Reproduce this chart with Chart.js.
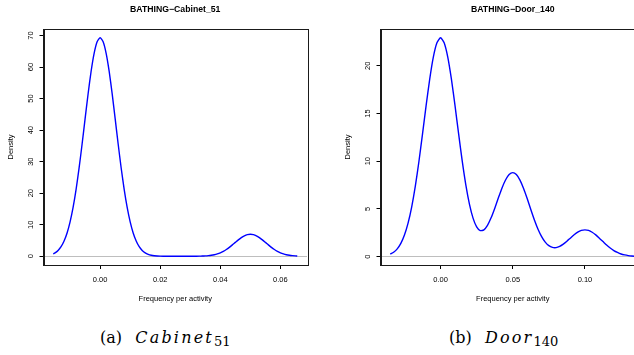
<!DOCTYPE html>
<html>
<head>
<meta charset="utf-8">
<script src="https://cdn.jsdelivr.net/npm/chart.js@4.4.1/dist/chart.umd.min.js"></script>
<style>
  html, body { margin: 0; padding: 0; background: #fff; }
  #wrap { position: relative; width: 634px; height: 355px; overflow: hidden; background: #fff; }
  canvas { position: absolute; top: 0; }
  .cap { position: absolute; font-family: "DejaVu Serif", serif; font-size: 16px; line-height: 20px; color: #000; white-space: nowrap; }
  .cap i { letter-spacing: 2.2px; margin-left: 3px; }
  .cap .sub { font-size: 13px; position: relative; top: 3px; font-style: normal; }
</style>
</head>
<body>
<div id="wrap">
  <canvas id="c1" width="317" height="310" style="left:0px"></canvas>
  <canvas id="c2" width="340" height="310" style="left:317px"></canvas>
  <div class="cap" style="left:100px; top:328px">(a)&nbsp;&nbsp;<i>Cabinet</i><span class="sub">51</span></div>
  <div class="cap" style="left:449px; top:328px">(b)&nbsp;&nbsp;<i>Door</i><span class="sub">140</span></div>
</div>
<script>
// ---- Data ----
const cabinetTitle = 'BATHING\u2212Cabinet_51';
const doorTitle = 'BATHING\u2212Door_140';
const xAxisTitle = 'Frequency per activity';
const yAxisTitle = 'Density';

const cabinetX = [-0.0156, -0.015, -0.014, -0.013, -0.012, -0.011, -0.010, -0.009, -0.008, -0.007, -0.006, -0.005, -0.004, -0.003, -0.002, -0.001,
  0.000, 0.001, 0.002, 0.003, 0.004, 0.005, 0.006, 0.007, 0.008, 0.009, 0.010, 0.011, 0.012, 0.013, 0.014, 0.015, 0.016, 0.017, 0.018, 0.019, 0.020,
  0.022, 0.025, 0.028, 0.031, 0.033, 0.034, 0.035, 0.036, 0.037, 0.038, 0.039, 0.040, 0.041, 0.042, 0.043, 0.044, 0.045, 0.046, 0.047, 0.048, 0.049,
  0.050, 0.051, 0.052, 0.053, 0.054, 0.055, 0.056, 0.057, 0.058, 0.059, 0.060, 0.061, 0.062, 0.063, 0.064, 0.065, 0.0656];
const cabinetDensity = [0.77, 1.08, 1.85, 3.04, 4.84, 7.39, 10.91, 15.50, 21.22, 28.00, 35.61, 43.65, 51.55, 58.68, 64.36, 68.03,
  69.30, 68.03, 64.36, 58.68, 51.55, 43.65, 35.61, 28.00, 21.22, 15.50, 10.91, 7.39, 4.84, 3.04, 1.85, 1.08, 0.61, 0.33, 0.17, 0.09, 0.04,
  0.01, 0.00, 0.00, 0.01, 0.03, 0.06, 0.11, 0.19, 0.31, 0.49, 0.75, 1.10, 1.57, 2.14, 2.83, 3.60, 4.41, 5.21, 5.93, 6.50, 6.87,
  7.00, 6.87, 6.50, 5.93, 5.21, 4.41, 3.60, 2.83, 2.14, 1.57, 1.10, 0.75, 0.49, 0.31, 0.19, 0.11, 0.08];

const doorX = [-0.0348, -0.0325, -0.030, -0.0275, -0.025, -0.0225, -0.020, -0.0175, -0.015, -0.0125, -0.010, -0.0075, -0.005, -0.0025,
  0.000, 0.0025, 0.005, 0.0075, 0.010, 0.0125, 0.015, 0.0175, 0.020, 0.0225, 0.025, 0.0275, 0.030, 0.0325, 0.035, 0.0375, 0.040, 0.0425, 0.045, 0.0475,
  0.050, 0.0525, 0.055, 0.0575, 0.060, 0.0625, 0.065, 0.0675, 0.070, 0.0725, 0.075, 0.0775, 0.080, 0.0825, 0.085, 0.0875, 0.090, 0.0925, 0.095, 0.0975,
  0.100, 0.1025, 0.105, 0.1075, 0.110, 0.1125, 0.115, 0.1175, 0.120, 0.1225, 0.125, 0.1275, 0.130, 0.1325, 0.1348];
const doorDensity = [0.25, 0.45, 0.81, 1.38, 2.25, 3.50, 5.19, 7.35, 9.94, 12.83, 15.82, 18.61, 20.91, 22.41,
  22.94, 22.41, 20.91, 18.62, 15.84, 12.88, 10.03, 7.52, 5.50, 4.03, 3.11, 2.72, 2.80, 3.27, 4.06, 5.05, 6.13, 7.17, 8.03, 8.60,
  8.80, 8.60, 8.02, 7.14, 6.08, 4.94, 3.84, 2.87, 2.09, 1.51, 1.14, 0.96, 0.94, 1.07, 1.31, 1.61, 1.95, 2.28, 2.56, 2.74,
  2.80, 2.74, 2.55, 2.27, 1.93, 1.57, 1.21, 0.90, 0.63, 0.43, 0.27, 0.17, 0.10, 0.055, 0.031];

const cabinetXTicks = [0.00, 0.02, 0.04, 0.06];
const cabinetYTicks = [0, 10, 20, 30, 40, 50, 60, 70];
const doorXTicks = [0.00, 0.05, 0.10];
const doorYTicks = [0, 5, 10, 15, 20];

// ---- Drawing ----
Chart.defaults.font.family = '"Liberation Sans", Arial, sans-serif';
Chart.defaults.color = '#000';

const boxPlugin = {
  id: 'rbox',
  afterDatasetsDraw(chart) {
    const a = chart.chartArea, ctx = chart.ctx;
    ctx.save();
    ctx.strokeStyle = '#1a1a1a';
    ctx.lineWidth = 1;
    ctx.strokeRect(Math.round(a.left) + 0.5, Math.round(a.top) + 0.5, Math.round(a.right - a.left), Math.round(a.bottom - a.top));
    ctx.restore();
  }
};

function rangeOf(arr) {
  const mn = Math.min(...arr), mx = Math.max(...arr);
  const pad = (mx - mn) * 0.04;
  return [mn - pad, mx + pad];
}

function makeChart(id, xs, ys, xTicks, yTicks, title, padLeft, padRight) {
  const pts = xs.map((x, i) => ({ x: x, y: ys[i] }));
  const xr = rangeOf(xs), yr = rangeOf(ys);
  const tickFont = { family: '"Liberation Sans", Arial, sans-serif', size: 7.5 };
  return new Chart(document.getElementById(id), {
    type: 'scatter',
    data: { datasets: [{ data: pts, showLine: true, borderColor: '#0000ff', borderWidth: 1.4, pointRadius: 0, tension: 0.2, fill: false }] },
    options: {
      responsive: false, animation: false, devicePixelRatio: 1,
      events: [],
      layout: { padding: { left: padLeft, right: padRight, top: 0, bottom: 0 } },
      plugins: {
        legend: { display: false },
        tooltip: { enabled: false },
        title: { display: true, fullSize: false, text: title, color: '#000',
          font: { family: '"Liberation Sans", Arial, sans-serif', size: 8.7, weight: 'bold' },
          padding: { top: 4.78, bottom: 13.78 } }
      },
      scales: {
        x: {
          type: 'linear', min: xr[0], max: xr[1],
          afterBuildTicks: s => { s.ticks = xTicks.map(v => ({ value: v })); },
          afterFit: s => { s.height = 45; },
          ticks: { font: tickFont, color: '#000', padding: 6, minRotation: 0, maxRotation: 0, autoSkip: false,
            callback: v => Number(v).toFixed(2) },
          grid: { drawOnChartArea: false, drawTicks: true, tickLength: 4, tickColor: '#000', tickWidth: 1 },
          border: { display: true, color: '#1a1a1a', width: 1 },
          title: { display: true, text: xAxisTitle, color: '#000', font: tickFont, padding: { top: 0, bottom: 6.5 } }
        },
        y: {
          type: 'linear', min: yr[0], max: yr[1],
          afterBuildTicks: s => { s.ticks = yTicks.map(v => ({ value: v })); },
          afterFit: s => { s.width = 43.5; },
          ticks: { font: tickFont, color: '#000', padding: 4.8, minRotation: 90, maxRotation: 90, crossAlign: 'center', autoSkip: false,
            callback: v => String(v) },
          grid: { drawOnChartArea: true, drawTicks: true, tickLength: 4, tickColor: '#000', tickWidth: 1,
            color: c => (c.tick && c.tick.value === 0) ? '#bebebe' : 'rgba(0,0,0,0)' },
          border: { display: true, color: '#1a1a1a', width: 1 },
          title: { display: true, text: yAxisTitle, color: '#000', font: tickFont, padding: { top: 6.5, bottom: 0 } }
        }
      }
    },
    plugins: [boxPlugin]
  });
}

makeChart('c1', cabinetX, cabinetDensity, cabinetXTicks, cabinetYTicks, cabinetTitle, 0, 10);
makeChart('c2', doorX, doorDensity, doorXTicks, doorYTicks, doorTitle, 20, 12);
</script>
</body>
</html>
